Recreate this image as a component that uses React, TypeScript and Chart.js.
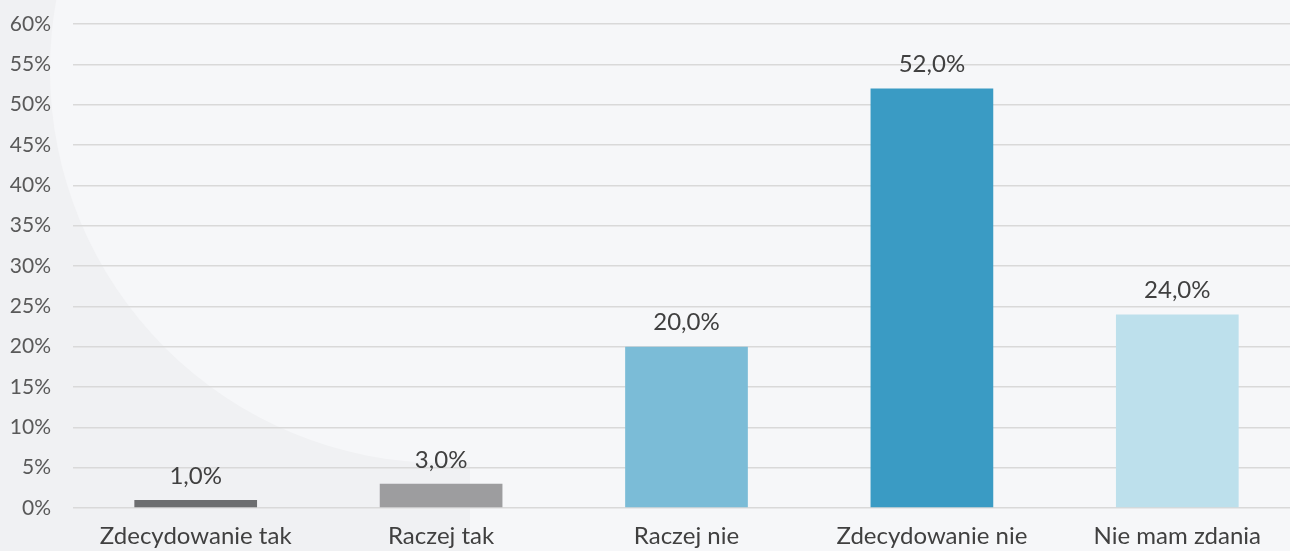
import React, { useEffect, useRef } from "react";
import { Chart, registerables } from "chart.js";

Chart.register(...registerables);

const categories = ["Zdecydowanie tak", "Raczej tak", "Raczej nie", "Zdecydowanie nie", "Nie mam zdania"];
const values = [1.0, 3.0, 20.0, 52.0, 24.0];
const barColors = ["#6d6e70", "#9d9d9f", "#7bbcd7", "#3a9bc4", "#bde0ec"];
const yMin = 0;
const yMax = 60;
const yStep = 5;

const bgPlugin = {
  id: "bgPlugin",
  beforeDraw(chart: any) {
    const { ctx, width, height } = chart;
    ctx.save();
    ctx.fillStyle = "#f0f1f3";
    ctx.fillRect(0, 0, width, height);
    ctx.beginPath();
    ctx.arc(443, 70, 393, 0, Math.PI * 2);
    ctx.fillStyle = "#f6f7f9";
    ctx.fill();
    ctx.beginPath();
    ctx.rect(470, 0, width - 470, height);
    ctx.fillStyle = "#f6f7f9";
    ctx.fill();
    ctx.restore();
  },
};

const labelPlugin = {
  id: "labelPlugin",
  afterDatasetsDraw(chart: any) {
    const { ctx } = chart;
    const meta = chart.getDatasetMeta(0);
    ctx.save();
    ctx.font = "24px Lato";
    ctx.fillStyle = "#404040";
    ctx.textAlign = "center";
    ctx.textBaseline = "middle";
    meta.data.forEach((bar: any, i: number) => {
      const v = chart.data.datasets[0].data[i] as number;
      ctx.fillText(v.toFixed(1).replace(".", ",") + "%", bar.x, bar.y - 24);
    });
    ctx.restore();
  },
};

export default function App() {
  const ref = useRef<HTMLCanvasElement>(null);
  useEffect(() => {
    document.body.style.margin = "0";
    document.body.style.overflow = "hidden";
    document.documentElement.style.overflow = "hidden";
    let chart: Chart | null = null;
    let cancelled = false;
    const make = () => {
      if (cancelled || !ref.current) return;
      chart = new Chart(ref.current, {
        type: "bar",
        data: {
          labels: categories,
          datasets: [
            {
              data: values,
              backgroundColor: barColors,
              barPercentage: 0.5,
              categoryPercentage: 1,
            },
          ],
        },
        options: {
          animation: false,
          responsive: false,
          layout: { padding: { left: 9, right: 0, top: 24, bottom: 0 } },
          plugins: { legend: { display: false }, tooltip: { enabled: false } },
          scales: {
            x: {
              grid: { display: false },
              border: { display: false },
              ticks: { font: { family: "Lato", size: 24 }, color: "#404040", padding: 6, maxRotation: 0 },
              afterFit: (s: any) => {
                s.height = 43;
                s.paddingLeft = 0;
                s.paddingRight = 0;
              },
            },
            y: {
              min: yMin,
              max: yMax,
              grid: { color: "#d9d9d9", lineWidth: 1.5, drawTicks: false },
              border: { display: false },
              ticks: {
                stepSize: yStep,
                font: { family: "Lato", size: 21 },
                color: "#595959",
                padding: 22,
                callback: (v: any) => v + "%",
              },
              afterFit: (s: any) => {
                s.width = 64;
                s.paddingTop = 0;
                s.paddingBottom = 0;
              },
            },
          },
        },
        plugins: [bgPlugin, labelPlugin],
      });
    };
    (document as any).fonts.load("24px Lato").then(make, make);
    return () => {
      cancelled = true;
      if (chart) chart.destroy();
    };
  }, []);
  return (
    <div style={{ width: 1290, height: 551, overflow: "hidden" }}>
      <canvas ref={ref} width={1300} height={551} style={{ display: "block" }} />
    </div>
  );
}
